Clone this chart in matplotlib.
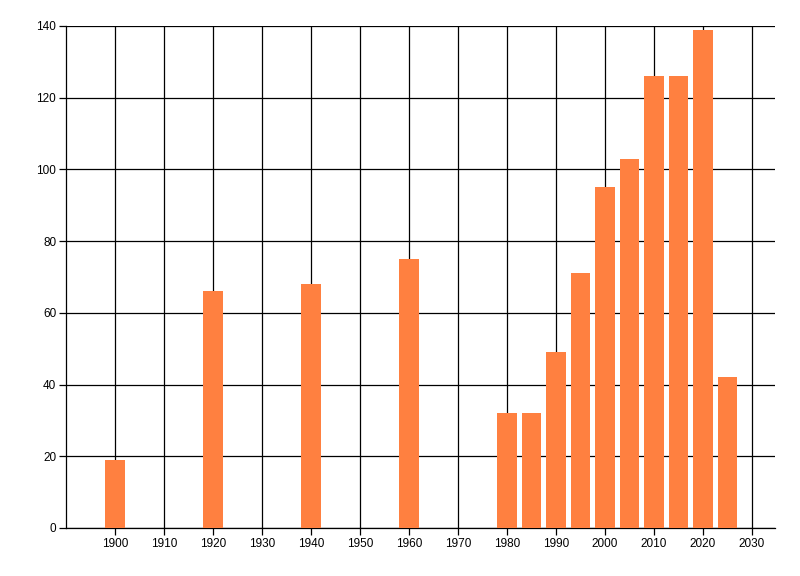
import matplotlib
matplotlib.use("Agg")
import matplotlib.pyplot as plt

years = [1900, 1920, 1940, 1960, 1980, 1985, 1990, 1995, 2000, 2005, 2010, 2015, 2020, 2025]
values = [19, 66, 68, 75, 32, 32, 49, 71, 95, 103, 126, 126, 139, 42]
x_ticks = list(range(1900, 2031, 10))
y_ticks = list(range(0, 141, 20))

plt.rcParams['font.family'] = ['Liberation Sans', 'DejaVu Sans']

fig = plt.figure(figsize=(8, 5.76), dpi=100)
ax = fig.add_axes([66/800, 1-528/576, (775-66)/800, (528-26)/576])

ax.bar(years, values, width=4, color='#FF8040', edgecolor='none', zorder=3)

ax.set_xlim(1890, 2034.7)
ax.set_ylim(0, 140)
ax.set_xticks(x_ticks)
ax.set_yticks(y_ticks)
ax.grid(True, color='black', linewidth=0.9, zorder=1)
ax.set_axisbelow(True)

for s in ['top', 'right']:
    ax.spines[s].set_visible(False)
for s in ['left', 'bottom']:
    ax.spines[s].set_linewidth(0.9)
    ax.spines[s].set_color('black')

ax.tick_params(axis='both', direction='out', length=5, width=0.9, labelsize=8.5, pad=2, colors='black')

fig.savefig('out.png', dpi=100)
